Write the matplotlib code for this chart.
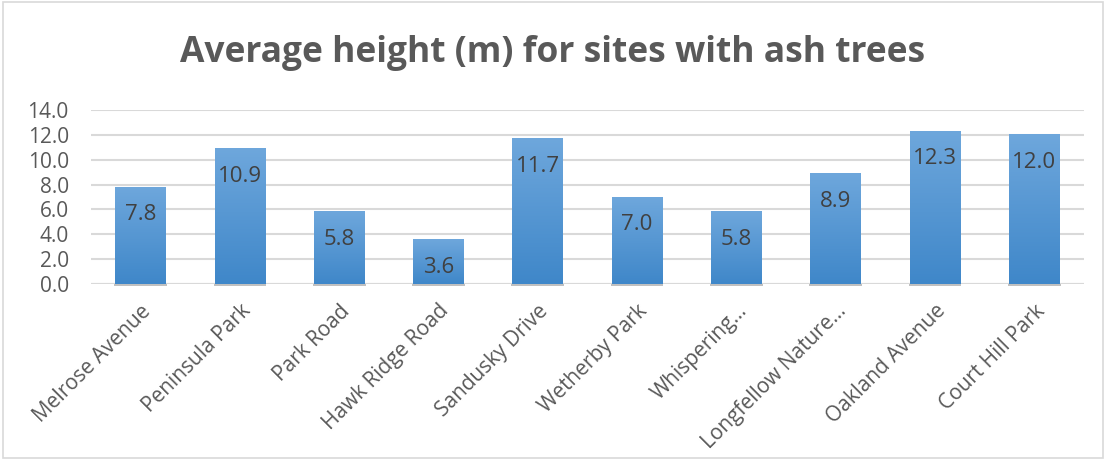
import matplotlib.pyplot as plt
import numpy as np
from matplotlib.patches import Rectangle
from matplotlib.colors import LinearSegmentedColormap

plt.rcParams['font.family'] = ['Open Sans', 'DejaVu Sans']

sites = ['Melrose Avenue', 'Peninsula Park', 'Park Road', 'Hawk Ridge Road',
         'Sandusky Drive', 'Wetherby Park', 'Whispering…', 'Longfellow Nature…',
         'Oakland Avenue', 'Court Hill Park']
heights = [7.8, 10.9, 5.8, 3.6, 11.7, 7.0, 5.8, 8.9, 12.3, 12.0]
yticks = [0, 2, 4, 6, 8, 10, 12, 14]

txt = '#595959'
fig = plt.figure(figsize=(11.06, 4.63), dpi=100)
fig.patches.append(Rectangle((0.003, 0.01), 0.994, 0.985, transform=fig.transFigure,
                             fill=False, edgecolor='#D9D9D9', lw=1.2))
ax = fig.add_axes([0.0823, 0.3866, 0.8977, 0.3758])

x = np.arange(len(sites))
bars = ax.bar(x, heights, width=0.51, color='none', zorder=3)

# vertical gradient for each bar
grad = np.linspace(0, 1, 256).reshape(-1, 1)
cmap = LinearSegmentedColormap.from_list('g', ['#3F87C9', '#6EA7DC'])
for b in bars:
    x0, w, h = b.get_x(), b.get_width(), b.get_height()
    # soft shadow under the bar
    ax.add_patch(Rectangle((x0 - 0.01, -0.18), w + 0.02, 0.18, color='#A6A6A6',
                           alpha=0.7, zorder=2, lw=0, clip_on=False))
    ax.imshow(grad, extent=(x0, x0 + w, 0, h), origin='lower', cmap=cmap,
              aspect='auto', zorder=3)

for xi, v in zip(x, heights):
    ax.annotate(f'{v:.1f}', (xi, v), xytext=(0, -20), textcoords='offset points',
                ha='center', va='center', fontsize=16, color='#404040', zorder=4)

ax.set_xlim(-0.5, len(sites) - 0.5)
ax.set_ylim(0, 14)
ax.set_yticks(yticks)
ax.set_yticklabels([f'{t:.1f}' for t in yticks])
ax.set_xticks(x)
ax.set_xticklabels(sites, rotation=45, ha='right', rotation_mode='anchor')
ax.tick_params(axis='both', length=0, labelsize=15, colors=txt)
ax.tick_params(axis='y', pad=16)
ax.tick_params(axis='x', pad=12)
ax.grid(axis='y', color='#D9D9D9', lw=1.5, zorder=0)
for s in ax.spines.values():
    s.set_visible(False)
ax.axhline(0, color='#D9D9D9', lw=1.5, zorder=1)

fig.text(0.5, 0.885, 'Average height (m) for sites with ash trees', ha='center', va='center',
         fontsize=25.5, fontweight='bold', color=txt)

fig.savefig('out.png', dpi=100)
